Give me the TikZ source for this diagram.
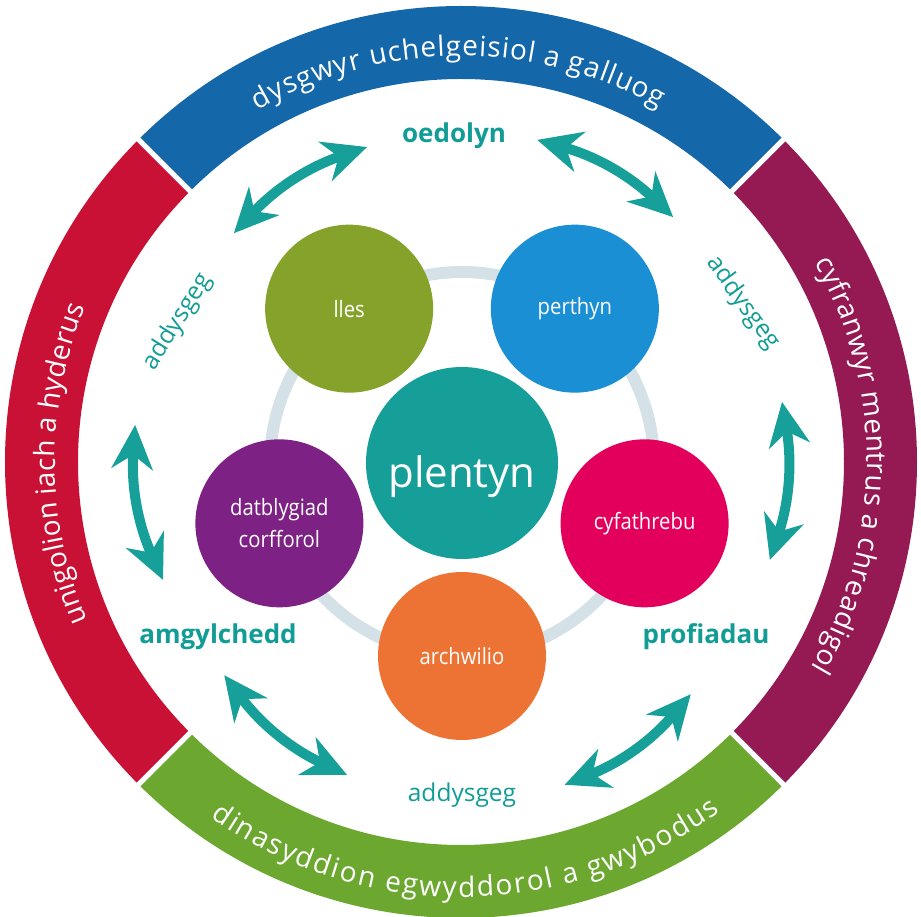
\documentclass[tikz,border=0pt]{standalone}
\usepackage{fontspec}
\setmainfont{Open Sans}
\newfontfamily\circfont[FakeStretch=0.9]{Open Sans}
\usetikzlibrary{arrows.meta,decorations.text}
\definecolor{bandblue}{HTML}{1467A9}
\definecolor{bandred}{HTML}{C81134}
\definecolor{bandmaroon}{HTML}{951A53}
\definecolor{bandgreen}{HTML}{6CA830}
\definecolor{cOlive}{HTML}{85A22B}
\definecolor{cBlue}{HTML}{1A8FD4}
\definecolor{cMagenta}{HTML}{E2005C}
\definecolor{cOrange}{HTML}{EC7333}
\definecolor{cPurple}{HTML}{7E2185}
\definecolor{cTeal}{HTML}{169E99}
\definecolor{tealtext}{HTML}{119C96}
\definecolor{tealarrow}{HTML}{17A099}
\definecolor{ringgray}{HTML}{D4E1E6}
\begin{document}
\begin{tikzpicture}[x=1pt,y=1pt,
  circ/.style={circle, minimum size=168pt, inner sep=0pt, text=white,
    font=\circfont\fontsize{22.5}{32}\selectfont, align=center},
  biglabel/.style={text=tealtext, font=\bfseries\fontsize{26}{26}\selectfont, anchor=base, inner sep=0pt},
  pedlabel/.style={text=tealtext, font=\fontsize{24.5}{24.5}\selectfont, inner sep=0pt},
  dblarrow/.style={draw=tealarrow, line width=10pt,
    {Stealth[length=44pt,width=41pt,inset=14pt]}-{Stealth[length=44pt,width=41pt,inset=14pt]}},
  ringtext/.style={decorate, decoration={text along path, text align={fit to path},
    text={|\fontsize{28}{28}\selectfont\color{white}|#1}}},
  gapline/.style={draw=white, line width=5pt}
]
\useasboundingbox (-461,-455) rectangle (460,462);
% outer band
\fill[bandblue] (45:456) arc[start angle=45,end angle=135,radius=456] -- (135:383) arc[start angle=135,end angle=45,radius=383] -- cycle;
\fill[bandred] (135:456) arc[start angle=135,end angle=225,radius=456] -- (225:383) arc[start angle=225,end angle=135,radius=383] -- cycle;
\fill[bandgreen] (225:456) arc[start angle=225,end angle=315,radius=456] -- (315:383) arc[start angle=315,end angle=225,radius=383] -- cycle;
\fill[bandmaroon] (-45:456) arc[start angle=-45,end angle=45,radius=456] -- (45:383) arc[start angle=45,end angle=-45,radius=383] -- cycle;
\foreach \a in {45,135,225,315} \draw[gapline] (\a:378) -- (\a:462);
% ring texts
\path[ringtext={dysgwyr uchelgeisiol a galluog}] (120:406) arc[start angle=120,end angle=60.8,radius=406];
\path[ringtext={unigolion iach a hyderus}] (203:406) arc[start angle=203,end angle=157.6,radius=406];
\path[ringtext={cyfranwyr mentrus a chreadigol}] (29.5:406) arc[start angle=29.5,end angle=-30.4,radius=406];
\path[ringtext={dinasyddion egwyddorol a gwybodus}] (234.8:435) arc[start angle=234.8,end angle=306.5,radius=435];
% inner ring and circles
\coordinate (pc) at (1,-2);
\draw[ringgray, line width=12pt] (pc) circle[radius=192];
\node[circ, fill=cOlive] (lles) at ([shift={(126:192)}]pc) {lles};
\node[circ, fill=cBlue] (perthyn) at ([shift={(54:192)}]pc) {perthyn};
\node[circ, fill=cMagenta] (cyfathrebu) at ([shift={(-18:192)}]pc) {cyfathrebu};
\node[circ, fill=cOrange] (archwilio) at ([shift={(-90:192)}]pc) {archwilio};
\node[circ, fill=cPurple] (datblygiad) at ([shift={(198:192)}]pc) {datblygiad\\corfforol};
\node[circ, fill=cTeal, minimum size=192pt, font=\fontsize{42}{42}\selectfont,
  text height=50pt, text depth=0pt] (plentyn) at (1,-1) {plentyn};
% labels
\node[biglabel] (oedolyn) at (-7,319) {oedolyn};
\node[biglabel] (amgylchedd) at (-243,-182) {amgylchedd};
\node[biglabel] (profiadau) at (245,-182) {profiadau};
\node[pedlabel, anchor=base] (addB) at (1,-340) {addysgeg};
\node[pedlabel, rotate=58] (addL) at (-283,140) {addysgeg};
\node[pedlabel, rotate=-54] (addR) at (282,159) {addysgeg};
% arrow end points
\coordinate (a1s) at (134.8:322.4); \coordinate (a1e) at (106.6:328.7);
\coordinate (a2s) at (76.7:331);    \coordinate (a2e) at (49.1:324);
\coordinate (a3s) at (10.6:326.6);  \coordinate (a3e) at (-17.6:324);
\coordinate (a4s) at (-45.3:326.7); \coordinate (a4e) at (-72.2:339);
\coordinate (a5s) at (250:333);     \coordinate (a5e) at (222:318.6);
\coordinate (a6s) at (201.6:320.5); \coordinate (a6e) at (173.5:328);
\foreach \s/\e in {a1s/a1e,a2s/a2e,a3s/a3e,a4s/a4e,a5s/a5e,a6s/a6e}
  \draw[dblarrow] (\s) to[bend left=14] (\e);
\end{tikzpicture}
\end{document}
